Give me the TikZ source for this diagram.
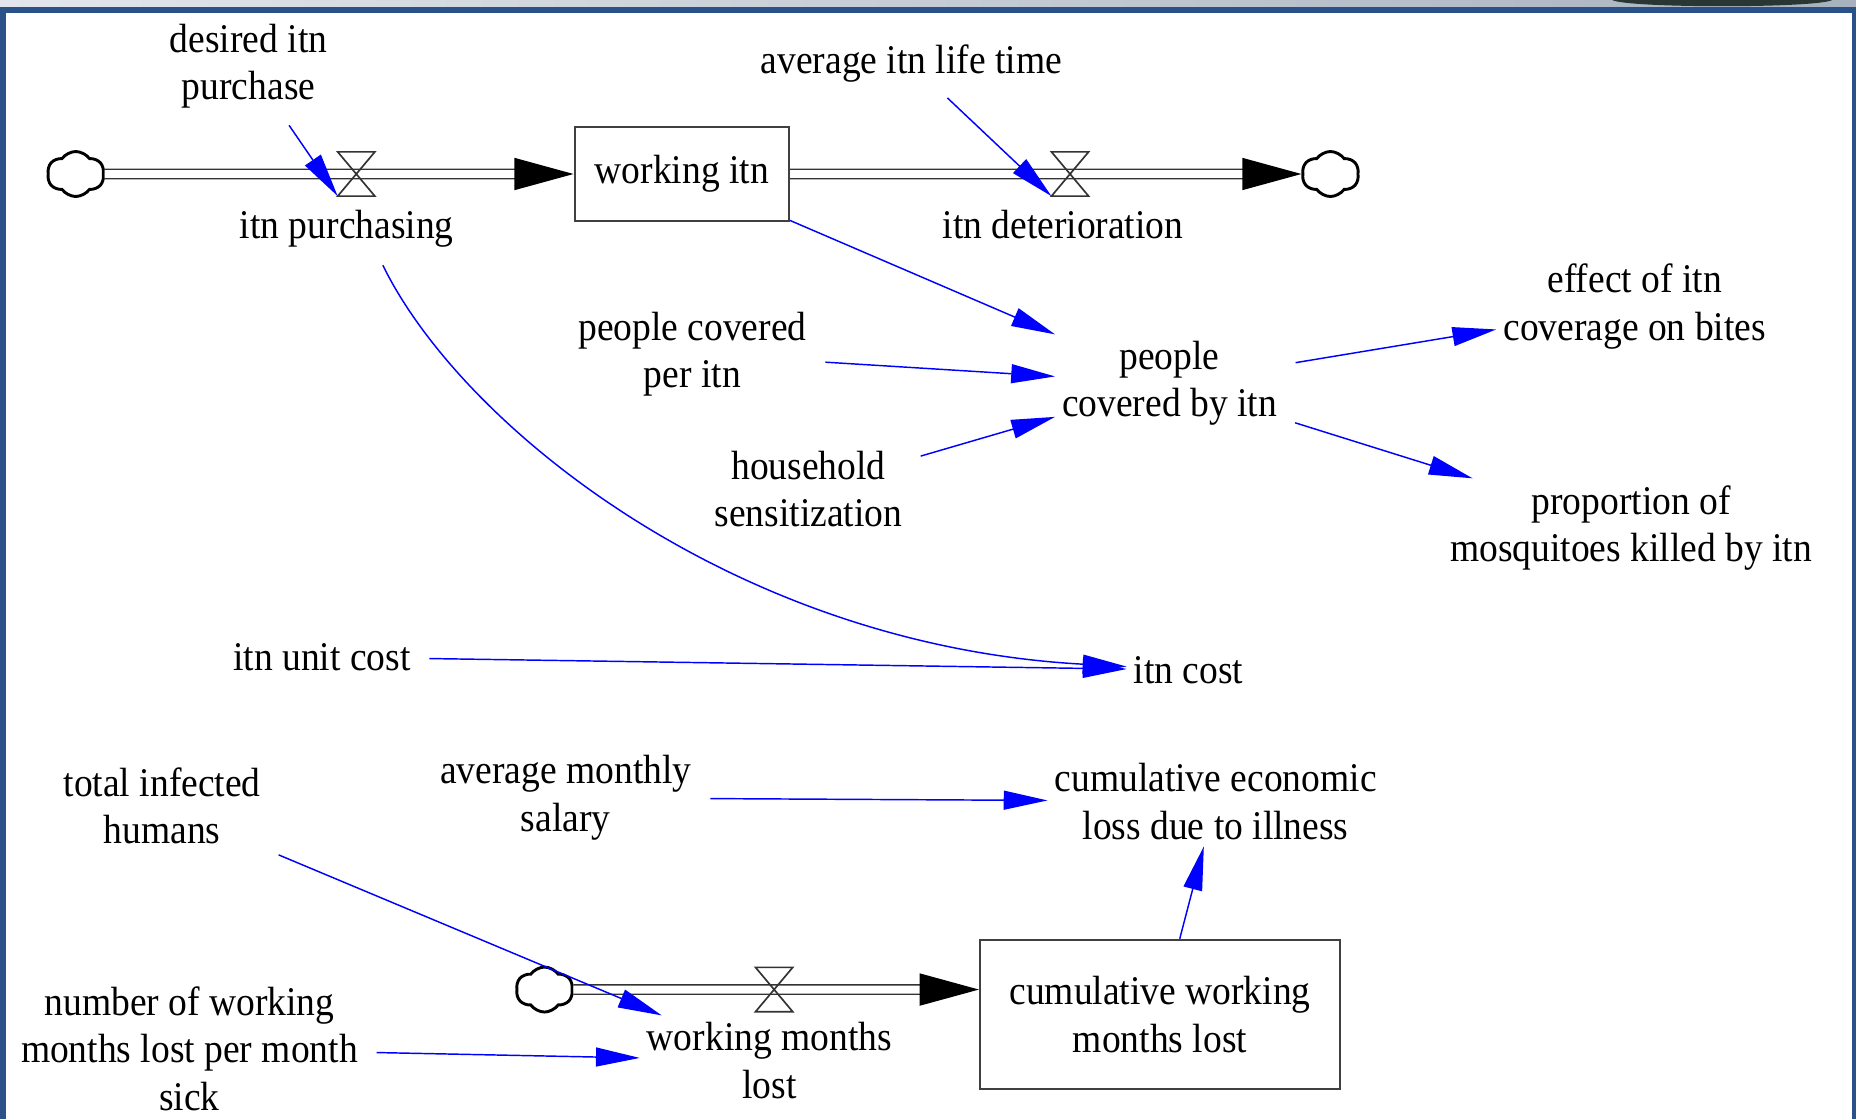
\documentclass[tikz,border=0pt]{standalone}
\usepackage{fontspec}
\setmainfont{Liberation Serif}[FakeStretch=0.92]
\usepackage{xcolor}
\usepackage{tikz}
\usetikzlibrary{shapes,arrows.meta,decorations.markings}

\definecolor{frameblue}{RGB}{42,82,136}
\definecolor{stripleft}{RGB}{226,230,236}
\definecolor{stripright}{RGB}{168,178,190}
\definecolor{blobcol}{RGB}{42,54,52}
\definecolor{linkblue}{RGB}{0,0,255}

\begin{document}
\begin{tikzpicture}[x=0.01cm, y=-0.01cm,
    var/.style={align=center, inner sep=1.5pt, font=\fontsize{9.8pt}{11.4pt}\selectfont},
    stock/.style={rectangle, draw=black!75, line width=0.5pt, align=center, inner sep=2pt, font=\fontsize{9.8pt}{11.4pt}\selectfont},
    source/.style={cloud, cloud puffs=6, cloud puff arc=110, aspect=1.3, draw=black, line width=0.7pt, minimum width=0.48cm, minimum height=0.38cm, inner sep=0pt},
    valveline/.style={draw=black!80, line width=0.4pt},
    valve/.style={rectangle, minimum width=0.30cm, minimum height=0.36cm, inner sep=0pt,
        append after command={\pgfextra{\draw[valveline] (\tikzlastnode.south west) -- (\tikzlastnode.south east) -- (\tikzlastnode.north west) -- (\tikzlastnode.north east) -- cycle;}}},
    link/.style={draw=linkblue, line width=0.35pt, shorten <=0.1cm, -{Triangle[length=0.37cm, width=0.16cm]}},
    pipe/.style={
        postaction={draw=black!80, line width=2.6pt, shorten >=0.4cm},
        postaction={draw=white, line width=1.9pt, shorten >=0.4cm},
        postaction={decorate, decoration={markings, mark=at position 1 with {\arrow[black]{Triangle[length=0.5cm, width=0.27cm]}}}}}
]
\useasboundingbox (0,0) rectangle (1568,945);

% Window frame
\shade[left color=stripleft, right color=stripright] (0,0) rectangle (1568,6);
\fill[blobcol] (1362,0) .. controls (1375,7) and (1535,7) .. (1548,0) -- cycle;
\fill[frameblue] (0,5.5) rectangle (1568,11);
\fill[frameblue] (0,5.5) rectangle (5,945);
\fill[frameblue] (1565,5.5) rectangle (1568,945);

% Stocks
\node[stock, minimum width=1.81cm, minimum height=0.80cm] (witn) at (576,147) {working itn};
\node[stock, minimum width=3.04cm, minimum height=1.26cm] (cwml) at (980,857) {cumulative working\\months lost};

% Sources and sinks
\node[source] (c1) at (64,147) {};
\node[source] (c2) at (1124,147) {};
\node[source] (c3) at (460,836) {};

% Flows
\path[pipe] (c1) -- (witn);
\path[pipe] (witn) -- (c2);
\path[pipe] (c3) -- (c3 -| cwml.west);
\node[valve] (v1) at (301,147) {};
\node[valve] (v2) at (904,147) {};
\node[valve] (v3) at (654,836) {};

% Variables
\node[var] (desired) at (210,56) {desired itn\\purchase};
\node[var] (purch) at (293,193) {itn purchasing};
\node[var] (avglife) at (770,54) {average itn life time};
\node[var] (deter) at (898,190) {itn deterioration};
\node[var] (percap) at (585,299) {people covered\\per itn};
\node[var] (househ) at (683,413) {household\\sensitization};
\node[var] (covered) at (988,324) {people\\covered by itn};
\node[var] (effect) at (1381,259) {effect of itn\\coverage on bites};
\node[var] (killed) at (1378,446) {proportion of\\mosquitoes killed by itn};
\node[var] (unitcost) at (272,555) {itn unit cost};
\node[var] (icost) at (1004,566) {itn cost};
\node[var] (infected) at (137,681) {total infected\\humans};
\node[var] (salary) at (478,674) {average monthly\\salary};
\node[var] (econ) at (1027,677) {cumulative economic\\loss due to illness};
\node[var] (monthslost) at (650,896) {working months\\lost};
\node[var] (perms) at (160,886) {number of working\\months lost per month\\sick};

% Links
\draw[link] (desired) -- (v1.south west);
\draw[link] (avglife) -- (v2.south west);
\draw[link, shorten <=0pt] (witn) -- (covered);
\draw[link] (percap) -- (covered);
\draw[link] (househ) -- (covered);
\draw[link] (covered) -- (effect);
\draw[link] (covered) -- (killed);
\draw[link] (unitcost) -- (icost);
\draw[link, shorten <=3pt] (purch.-40) .. controls (390,360) and (620,545) .. (icost);
\draw[link] (salary) -- (econ);
\draw[link] (infected) -- (monthslost);
\draw[link] (perms) -- (monthslost);
\draw[link, shorten <=0pt] (cwml) -- (econ);

\end{tikzpicture}
\end{document}
